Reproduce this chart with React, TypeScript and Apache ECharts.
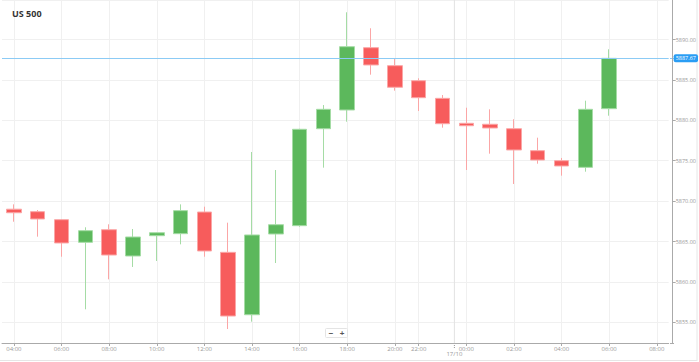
import React, { useEffect, useRef } from "react";
import * as echarts from "echarts";

const title = "US 500";
const dateLabel = "17/10";
const categories = [
  "04:00", "05:00", "06:00", "07:00", "08:00", "09:00", "10:00", "11:00", "12:00", "13:00",
  "14:00", "15:00", "16:00", "17:00", "18:00", "19:00", "20:00", "22:00", "23:00",
  "00:00", "01:00", "02:00", "03:00", "04:00", "05:00", "06:00", "07:00", "08:00",
];
// index of last candle of the previous day (23:00)
const dayBreakAfter = 18;

const opens = [5869.0, 5868.69, 5867.7, 5864.9, 5866.46, 5863.21, 5865.72, 5865.97, 5868.65, 5863.66, 5855.94, 5865.93, 5866.96, 5878.96, 5881.28, 5888.99, 5886.76, 5884.9, 5882.72, 5879.63, 5879.51, 5878.96, 5876.24, 5875.0, 5874.18, 5881.44];
const closes = [5868.56, 5867.79, 5864.82, 5866.34, 5863.33, 5865.56, 5866.09, 5868.82, 5863.83, 5855.78, 5865.81, 5867.08, 5878.89, 5881.36, 5889.11, 5886.85, 5884.09, 5882.8, 5879.58, 5879.33, 5879.05, 5876.33, 5875.09, 5874.35, 5881.36, 5887.67];
const lows = [5867.45, 5865.6, 5863.12, 5856.61, 5860.32, 5861.85, 5862.59, 5864.65, 5863.12, 5854.17, 5855.08, 5862.34, 5866.83, 5874.14, 5879.83, 5885.65, 5883.67, 5881.15, 5879.09, 5873.85, 5875.87, 5872.12, 5874.63, 5873.15, 5873.64, 5880.57];
const highs = [5869.6, 5868.9, 5867.75, 5866.76, 5867.13, 5866.55, 5866.12, 5869.6, 5869.31, 5867.33, 5876.08, 5873.85, 5878.95, 5881.89, 5893.37, 5891.39, 5887.67, 5885.2, 5883.13, 5881.56, 5881.36, 5880.13, 5877.85, 5875.34, 5882.43, 5888.79];

const yMin = 5852.44;
const yMax = 5894.89;

export default function App() {
  const ref = useRef<HTMLDivElement>(null);
  useEffect(() => {
    const el = ref.current!;
    const chart = echarts.init(el, null, { renderer: "svg" });
    const isEven = (i: number) => parseInt(categories[i].slice(0, 2), 10) % 2 === 0;
    const candleData = opens.map((o, i) => [o, closes[i], lows[i], highs[i]]);
    const lastClose = closes[closes.length - 1];
    const yOffset = 4;
    chart.setOption({
      animation: false,
      textStyle: { fontFamily: "'Open Sans', sans-serif" },
      title: {
        text: title,
        left: 7,
        top: 4,
        textStyle: { fontSize: 9, fontWeight: "bold", color: "#333", fontFamily: "'Open Sans', sans-serif" },
      },
      grid: { left: 2, right: 29, top: 0, bottom: 19 },
      xAxis: {
        type: "category",
        data: categories,
        boundaryGap: true,
        axisLine: { lineStyle: { color: "#aaa" } },
        axisTick: { show: true, alignWithLabel: true, interval: (i: number) => isEven(i), length: 3, lineStyle: { color: "#aaa" } },
        axisLabel: { interval: (i: number) => isEven(i), fontSize: 6, color: "#999", margin: 3 },
        splitLine: { show: true, alignWithLabel: true, interval: (i: number) => isEven(i), lineStyle: { color: "#f0f0f0" } },
      },
      yAxis: {
        type: "value",
        position: "right",
        offset: yOffset,
        min: yMin,
        max: yMax,
        splitNumber: 8,
        axisLine: { show: true, lineStyle: { color: "#aaa" } },
        axisTick: { show: true, length: 3, lineStyle: { color: "#aaa" } },
        axisLabel: {
          fontSize: 5.5,
          color: "#999",
          margin: 3,
          showMinLabel: false,
          showMaxLabel: false,
          formatter: (v: number) => v.toFixed(2),
        },
        splitLine: { show: true, lineStyle: { color: "#f0f0f0" } },
      },
      series: [
        {
          type: "candlestick",
          data: candleData,
          barWidth: 15,
          itemStyle: {
            color: "#5cb85c",
            color0: "#f75c5c",
            borderColor: "#a5dca5",
            borderColor0: "#fba6a6",
            borderWidth: 1,
          },
          markLine: {
            symbol: "none",
            silent: true,
            lineStyle: { color: "#8ccbf5", type: "solid", width: 1 },
            label: {
              position: "end",
              distance: 5,
              formatter: () => lastClose.toFixed(2),
              backgroundColor: "#2a9df4",
              color: "#fff",
              fontSize: 5.5,
              padding: [1, 2],
              borderRadius: 2,
            },
            data: [{ yAxis: lastClose }],
          },
        },
      ],
    });

    const xa = chart.convertToPixel({ xAxisIndex: 0 }, dayBreakAfter) as number;
    const xb = chart.convertToPixel({ xAxisIndex: 0 }, dayBreakAfter + 1) as number;
    const sep = (xa + xb) / 2;
    const bottom = chart.convertToPixel({ yAxisIndex: 0 }, yMin) as number;
    const priceY = chart.convertToPixel({ yAxisIndex: 0 }, lastClose) as number;
    const W = el.clientWidth;
    const H = el.clientHeight;
    const plotRight = W - 29;
    chart.setOption({
      graphic: [
        { type: "line", silent: true, shape: { x1: sep, y1: 0, x2: sep, y2: bottom }, style: { stroke: "#e2e2e2", lineWidth: 1 } },
        { type: "line", silent: true, shape: { x1: sep, y1: bottom, x2: sep, y2: bottom + 5 }, style: { stroke: "#999", lineWidth: 1, lineDash: [1, 1] } },
        { type: "text", silent: true, x: sep, y: bottom + 8, style: { text: dateLabel, fontSize: 6, fill: "#999", align: "center", fontFamily: "'Open Sans', sans-serif" } },
        { type: "line", silent: true, shape: { x1: plotRight, y1: Math.round(bottom) + 0.5, x2: plotRight + yOffset, y2: Math.round(bottom) + 0.5 }, style: { stroke: "#aaa", lineWidth: 1 } },
        { type: "line", silent: true, shape: { x1: plotRight, y1: Math.round(priceY) + 0.5, x2: plotRight + yOffset, y2: Math.round(priceY) + 0.5 }, style: { stroke: "#8ccbf5", lineWidth: 1 } },
        { type: "line", silent: true, shape: { x1: W - 2, y1: 0, x2: W - 2, y2: H - 1 }, style: { stroke: "#e6e6e6", lineWidth: 1 } },
        { type: "line", silent: true, shape: { x1: 0, y1: H - 1.5, x2: W - 2, y2: H - 1.5 }, style: { stroke: "#e6e6e6", lineWidth: 1 } },
        {
          type: "group",
          left: 325,
          top: 328,
          children: [
            { type: "rect", shape: { x: 0, y: 0, width: 22, height: 9, r: 1 }, style: { fill: "#fff", stroke: "#e4e4e4" } },
            { type: "text", x: 5.5, y: 4.5, style: { text: "−", fontSize: 8, fontWeight: "bold", fill: "#555", align: "center", verticalAlign: "middle" } },
            { type: "text", x: 16.5, y: 4.5, style: { text: "+", fontSize: 8, fontWeight: "bold", fill: "#555", align: "center", verticalAlign: "middle" } },
          ],
        },
      ],
    });
    return () => chart.dispose();
  }, []);
  return (
    <div
      ref={ref}
      style={{ position: "fixed", left: 0, top: 0, width: 699, height: 362, background: "#fff" }}
    />
  );
}
